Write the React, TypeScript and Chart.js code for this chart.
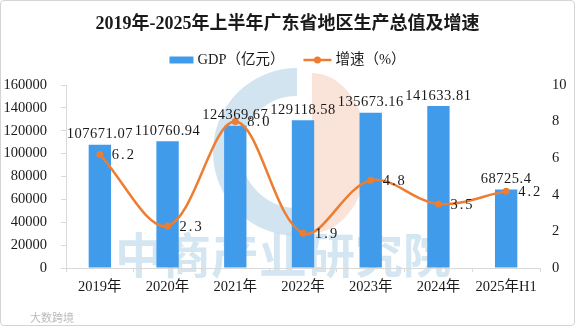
import React, { useEffect, useRef } from "react";
import { Chart, registerables } from "chart.js";

Chart.register(...registerables);

const TITLE = "2019年-2025年上半年广东省地区生产总值及增速";
const categories = ["2019年", "2020年", "2021年", "2022年", "2023年", "2024年", "2025年H1"];
const gdpValues = [107671.07, 110760.94, 124369.67, 129118.58, 135673.16, 141633.81, 68725.4];
const gdpLabels = ["107671.07", "110760.94", "124369.67", "129118.58", "135673.16", "141633.81", "68725.4"];
const growthValues = [6.2, 2.3, 8.0, 1.9, 4.8, 3.5, 4.2];
const growthLabels = ["6.2", "2.3", "8.0", "1.9", "4.8", "3.5", "4.2"];
const seriesNames = ["GDP（亿元）", "增速（%）"];
const leftAxis = { min: 0, max: 160000, step: 20000 };
const rightAxis = { min: 0, max: 10, step: 2 };
const WATERMARK = "中商产业研究院";
const SOURCE_MARK = "大数跨境";

const BAR_COLOR = "#409ceb";
const LINE_COLOR = "#ed7d31";
const TEXT_COLOR = "#1a1a1a";
const AXIS_COLOR = "#d9d9d9";
const SERIF = "'Liberation Serif', 'Noto Sans CJK SC', serif";

const overlayPlugin = {
  id: "overlay",
  beforeDraw(chart: any) {
    const ctx = chart.ctx;
    ctx.save();
    ctx.fillStyle = "rgba(248,214,198,0.65)";
    ctx.beginPath();
    ctx.ellipse(312, 153, 56, 80, 0, -Math.PI / 2, Math.PI / 2, false);
    ctx.closePath();
    ctx.fill();
    ctx.strokeStyle = "rgba(196,219,236,0.75)";
    ctx.lineWidth = 28;
    ctx.beginPath();
    ctx.arc(297, 152, 70, -Math.PI / 2, Math.PI / 2, true);
    ctx.stroke();
    ctx.fillStyle = "rgba(198,221,238,0.75)";
    ctx.font = `bold 48px 'Noto Sans CJK SC', sans-serif`;
    ctx.textAlign = "center";
    ctx.textBaseline = "middle";
    ctx.fillText(WATERMARK, 283, 255);
    ctx.fillStyle = "rgba(170,170,170,0.8)";
    ctx.font = `11px 'Noto Sans CJK SC', sans-serif`;
    ctx.textAlign = "left";
    ctx.fillText(SOURCE_MARK, 30, 318);
    ctx.restore();
  },
  afterDatasetsDraw(chart: any) {
    const ctx = chart.ctx;
    ctx.save();
    ctx.fillStyle = TEXT_COLOR;
    ctx.font = `14.5px ${SERIF}`;
    const barMeta = chart.getDatasetMeta(0);
    ctx.textAlign = "center";
    ctx.textBaseline = "bottom";
    try { ctx.letterSpacing = "0.5px"; } catch (e) {}
    barMeta.data.forEach((el: any, i: number) => {
      ctx.fillText(gdpLabels[i], el.x, el.y - 3);
    });
    const lineMeta = chart.getDatasetMeta(1);
    ctx.textAlign = "left";
    ctx.textBaseline = "middle";
    try { ctx.letterSpacing = "2px"; } catch (e) {}
    lineMeta.data.forEach((el: any, i: number) => {
      ctx.fillText(growthLabels[i], el.x + 12, el.y + 1);
    });
    ctx.restore();
  },
  afterDraw(chart: any) {
    const ctx = chart.ctx;
    const cx = chart.width / 2;
    ctx.save();
    ctx.fillStyle = TEXT_COLOR;
    ctx.font = `bold 18px ${SERIF}`;
    ctx.textAlign = "center";
    ctx.textBaseline = "middle";
    ctx.fillText(TITLE, cx, 24);
    ctx.font = `14.5px ${SERIF}`;
    const w1 = ctx.measureText(seriesNames[0]).width;
    const w2 = ctx.measureText(seriesNames[1]).width;
    const total = 24 + 4 + w1 + 19 + 28 + 4 + w2;
    let x = cx - total / 2;
    const y = 60;
    ctx.fillStyle = BAR_COLOR;
    ctx.fillRect(x, y - 3.5, 24, 7);
    x += 28;
    ctx.fillStyle = TEXT_COLOR;
    ctx.textAlign = "left";
    ctx.fillText(seriesNames[0], x, y);
    x += w1 + 19;
    ctx.strokeStyle = LINE_COLOR;
    ctx.lineWidth = 2.5;
    ctx.beginPath();
    ctx.moveTo(x, y);
    ctx.lineTo(x + 28, y);
    ctx.stroke();
    ctx.fillStyle = LINE_COLOR;
    ctx.beginPath();
    ctx.arc(x + 14, y, 3.5, 0, Math.PI * 2);
    ctx.fill();
    x += 32;
    ctx.fillStyle = TEXT_COLOR;
    ctx.fillText(seriesNames[1], x, y);
    ctx.restore();
  },
};

export default function App() {
  const canvasRef = useRef<HTMLCanvasElement | null>(null);

  useEffect(() => {
    const canvas = canvasRef.current;
    if (!canvas) return;
    const tickFont = { family: SERIF, size: 14.5 };
    const chart = new Chart(canvas, {
      type: "bar",
      data: {
        labels: categories,
        datasets: [
          {
            type: "bar",
            label: seriesNames[0],
            data: gdpValues,
            backgroundColor: BAR_COLOR,
            yAxisID: "y",
            barPercentage: 0.33,
            categoryPercentage: 1,
            order: 2,
          },
          {
            type: "line",
            label: seriesNames[1],
            data: growthValues,
            borderColor: LINE_COLOR,
            backgroundColor: LINE_COLOR,
            borderWidth: 2.5,
            pointRadius: 3.5,
            pointBackgroundColor: LINE_COLOR,
            pointBorderWidth: 0,
            tension: 0.35,
            yAxisID: "y1",
            order: 1,
          } as any,
        ],
      },
      options: {
        responsive: false,
        animation: false,
        devicePixelRatio: 1,
        layout: { padding: { top: 85, left: 2, right: 9, bottom: 24.6 } },
        plugins: {
          legend: { display: false },
          title: { display: false },
          tooltip: { enabled: false },
        },
        scales: {
          x: {
            grid: { drawOnChartArea: false, color: AXIS_COLOR, tickLength: 4, offset: true },
            border: { color: AXIS_COLOR },
            ticks: { color: TEXT_COLOR, font: tickFont, padding: 6, maxRotation: 0, autoSkip: false },
          },
          y: {
            position: "left",
            min: leftAxis.min,
            max: leftAxis.max,
            grid: { drawOnChartArea: false, color: AXIS_COLOR, tickLength: 5 },
            border: { color: AXIS_COLOR },
            afterFit: (scale: any) => {
              scale.width = 64;
            },
            ticks: {
              stepSize: leftAxis.step,
              color: TEXT_COLOR,
              font: tickFont,
              padding: 14,
              callback: (v: any) => String(v),
            },
          },
          y1: {
            position: "right",
            min: rightAxis.min,
            max: rightAxis.max,
            grid: { display: false, drawOnChartArea: false, drawTicks: false },
            border: { display: false },
            afterFit: (scale: any) => {
              scale.width = 26;
            },
            ticks: {
              stepSize: rightAxis.step,
              color: TEXT_COLOR,
              font: tickFont,
              padding: 12,
              callback: (v: any) => String(v),
            },
          },
        },
      } as any,
      plugins: [overlayPlugin],
    });
    return () => chart.destroy();
  }, []);

  return (
    <div style={{ position: "absolute", left: 0, top: 0, width: 575, height: 326, background: "#fff" }}>
      <canvas ref={canvasRef} width={575} height={326} style={{ display: "block" }} />
      <div
        style={{
          position: "absolute",
          left: 0,
          top: 0,
          width: 575,
          height: 326,
          boxSizing: "border-box",
          border: "1px solid #d4d4d4",
          borderRadius: 4,
          pointerEvents: "none",
        }}
      />
    </div>
  );
}
